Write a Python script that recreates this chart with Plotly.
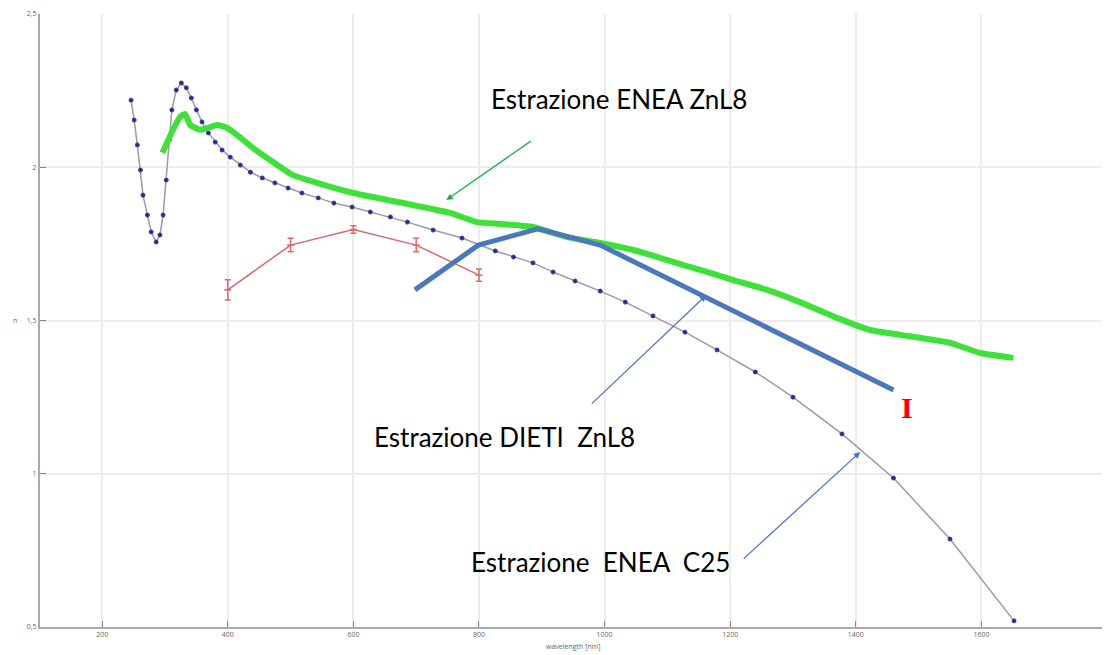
import plotly.graph_objects as go

# ENEA C25 model (dotted navy/grey curve)
c25_wl = [246, 251, 256, 261, 265, 272, 278, 286, 292, 297, 302, 307, 311, 318, 326, 334, 342, 350,
          359, 369, 380, 391, 404, 420, 436, 455, 475, 496, 518, 544, 569, 598, 627, 659, 686, 727,
          773, 826, 855, 886, 918, 953, 993, 1033, 1077, 1128, 1179, 1240, 1300, 1378, 1460, 1550, 1652]
c25_n = [2.219, 2.154, 2.073, 1.991, 1.909, 1.844, 1.789, 1.756, 1.779, 1.844, 1.958, 2.089, 2.187,
         2.252, 2.275, 2.259, 2.226, 2.187, 2.148, 2.112, 2.082, 2.056, 2.033, 2.007, 1.984, 1.965,
         1.949, 1.932, 1.916, 1.900, 1.883, 1.870, 1.854, 1.838, 1.821, 1.795, 1.769, 1.727, 1.707,
         1.688, 1.658, 1.629, 1.596, 1.560, 1.515, 1.462, 1.404, 1.332, 1.250, 1.130, 0.986, 0.787, 0.520]

# ENEA ZnL8 extraction (thick green)
znl8_wl = [296, 311, 324, 332, 340, 356, 367, 383, 396, 415, 440, 472, 503, 542, 600, 675, 754, 797,
           834, 886, 940, 993, 1046, 1100, 1152, 1205, 1259, 1311, 1367, 1423, 1471, 1550, 1598, 1651]
znl8_n = [2.047, 2.115, 2.164, 2.174, 2.138, 2.122, 2.128, 2.138, 2.131, 2.105, 2.063, 2.017, 1.975,
          1.949, 1.916, 1.885, 1.851, 1.821, 1.815, 1.805, 1.772, 1.753, 1.730, 1.697, 1.665, 1.632,
          1.600, 1.560, 1.511, 1.469, 1.453, 1.427, 1.394, 1.378]

# measured points with error bars (red)
meas_wl = [400, 500, 600, 700, 800]
meas_n = [1.600, 1.746, 1.797, 1.746, 1.648]
meas_err = [0.033, 0.022, 0.012, 0.022, 0.02]

# DIETI ZnL8 extraction (thick blue)
dieti_wl = [698, 799, 894, 993, 1460]
dieti_n = [1.600, 1.746, 1.799, 1.746, 1.273]

xticks = [200, 400, 600, 800, 1000, 1200, 1400, 1600, 1800]
yticks = [0.5, 1, 1.5, 2, 2.5]
yticklabels = ["0,5", "1", "1,5", "2", "2,5"]

fig = go.Figure()
fig.add_trace(go.Scatter(x=meas_wl, y=meas_n, mode='lines+markers',
                         line=dict(color='#d46a6a', width=1.5),
                         marker=dict(symbol='line-ew', size=5, color='#d46a6a', line=dict(color='#d46a6a', width=1.5)),
                         error_y=dict(type='data', array=meas_err, color='#d46a6a', thickness=1.5, width=3)))
fig.add_trace(go.Scatter(x=c25_wl, y=c25_n, mode='lines+markers',
                         line=dict(color='#9a9aaa', width=1.5),
                         marker=dict(size=4, color='#2a2a70', line=dict(color='#3a3ab0', width=1))))
fig.add_trace(go.Scatter(x=znl8_wl, y=znl8_n, mode='lines',
                         line=dict(color='#3ee03a', width=6, shape='spline', smoothing=0.4)))
fig.add_trace(go.Scatter(x=dieti_wl, y=dieti_n, mode='lines',
                         line=dict(color='#4a78ba', width=5)))

txt = dict(family='Lato, Open Sans, sans-serif', size=26, color='black')
arr = dict(arrowhead=2, arrowsize=1, arrowwidth=1.3, showarrow=True, axref='pixel', ayref='pixel')
fig.add_annotation(x=1023, y=2.223, text='Estrazione ENEA ZnL8', showarrow=False, font=txt)
fig.add_annotation(x=840, y=1.120, text='Estrazione DIETI  ZnL8', showarrow=False, font=txt)
fig.add_annotation(x=993, y=0.712, text='Estrazione  ENEA  C25', showarrow=False, font=txt)
fig.add_annotation(x=1482, y=1.215, text='<b>I</b>', showarrow=False,
                   font=dict(family='Liberation Serif, serif', size=30, color='#ff0000'))
fig.add_annotation(x=748, y=1.893, ax=86, ay=-60, text='', arrowcolor='#1cb04a', **arr)
fig.add_annotation(x=1162, y=1.583, ax=-116, ay=110, text='', arrowcolor='#4a78c0', **arr)
fig.add_annotation(x=1407, y=1.071, ax=-118, ay=108, text='', arrowcolor='#4a78c0', **arr)
fig.add_annotation(x=0.5, y=-0.022, xref='paper', yref='paper', yanchor='top', text='wavelength [nm]',
                   showarrow=False, font=dict(size=7, color='#666'))
fig.add_annotation(x=-0.027, y=1.5, xref='paper', yref='y', text='n', showarrow=False,
                   font=dict(size=7, color='#666'))

# page body adds an 8px offset, so the figure is 8px smaller and margins shifted
fig.update_layout(
    width=1102, height=647, showlegend=False,
    margin=dict(l=32, r=3, t=6, b=28),
    paper_bgcolor='white', plot_bgcolor='white',
    xaxis=dict(range=[101, 1800], tickvals=xticks, ticks='inside', ticklen=6, tickcolor='#888',
               showgrid=True, gridcolor='#ececec', gridwidth=1.5, zeroline=False,
               showline=True, linecolor='#aaa', linewidth=2, automargin=False,
               tickfont=dict(size=7, color='#666')),
    yaxis=dict(range=[0.5, 2.5], tickvals=yticks, ticktext=yticklabels, ticks='inside', ticklen=6,
               tickcolor='#888', showgrid=True, gridcolor='#ececec', gridwidth=1.5, zeroline=False,
               showline=True, linecolor='#aaa', linewidth=2, automargin=False,
               tickfont=dict(size=7, color='#666')),
)
fig.write_html("out.html")
